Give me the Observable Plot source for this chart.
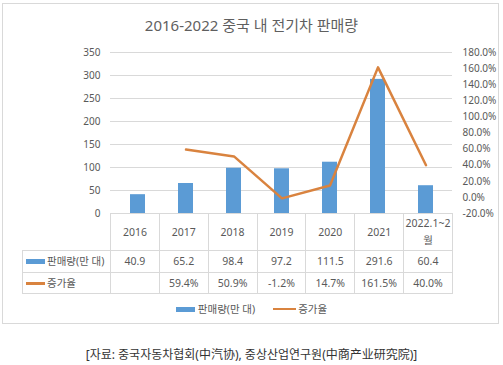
<!DOCTYPE html>
<html><head><meta charset="utf-8">
<script src="https://cdn.jsdelivr.net/npm/d3@7"></script>
<script src="https://cdn.jsdelivr.net/npm/@observablehq/plot@0.6"></script>
<style>
body{margin:0;background:#fff;font-family:"Noto Sans","Noto Sans CJK KR",sans-serif;}
#wrap{position:relative;width:503px;height:365px;overflow:hidden;}
#frame{position:absolute;left:2px;top:3px;width:497px;height:321px;border:1px solid #d9d9d9;box-sizing:border-box;}
#title{position:absolute;left:0;width:503px;top:15px;text-align:center;font-size:15px;font-weight:400;color:#5f5f5f;line-height:20px;}
#chart{position:absolute;left:0;top:0;}
#tbl{position:absolute;left:22px;top:213px;border-collapse:collapse;table-layout:fixed;font-size:10.5px;color:#595959;}
#tbl td{padding:0;text-align:center;border:1px solid #d9d9d9;line-height:13px;}
#legend{position:absolute;left:0;width:503px;top:300px;text-align:center;font-size:10.5px;color:#595959;line-height:16px;}
.key{display:inline-block;vertical-align:middle;}
#caption{position:absolute;left:0;width:503px;top:346px;text-align:center;font-size:12px;color:#333;line-height:18px;}
</style></head>
<body>
<div id="wrap">
  <div id="frame"></div>
  <div id="title"></div>
  <div id="chart"></div>
  <table id="tbl"></table>
  <div id="legend"></div>
  <div id="caption"></div>
</div>
<script>
const titleText = "2016-2022 중국 내 전기차 판매량";
const captionText = "[자료: 중국자동차협회(中汽协), 중상산업연구원(中商产业研究院)]";
const categories = ["2016","2017","2018","2019","2020","2021","2022.1~2월"];
const sales = [40.9, 65.2, 98.4, 97.2, 111.5, 291.6, 60.4];
const growth = [null, 59.4, 50.9, -1.2, 14.7, 161.5, 40.0];
const seriesNames = ["판매량(만 대)", "증가율"];
const leftTicks = [0, 50, 100, 150, 200, 250, 300, 350];
const rightTicks = [-20, 0, 20, 40, 60, 80, 100, 120, 140, 160, 180];

const barColor = "#5B9BD5";
const lineColor = "#D9833F";

const lMin = leftTicks[0], lMax = leftTicks[leftTicks.length-1];
const rMin = rightTicks[0], rMax = rightTicks[rightTicks.length-1];
const toLeft = r => lMin + (r - rMin) * (lMax - lMin) / (rMax - rMin);
const fromLeft = v => rMin + (v - lMin) * (rMax - rMin) / (lMax - lMin);

const data = categories.map((c, i) => ({cat: c, sales: sales[i], growth: growth[i]}));

document.getElementById("title").textContent = titleText;
document.getElementById("caption").textContent = captionText;

const plot = Plot.plot({
  width: 503, height: 226,
  marginTop: 52, marginBottom: 13, marginLeft: 110, marginRight: 51,
  style: {fontSize: "10px", color: "#595959", fontFamily: '"Noto Sans","Noto Sans CJK KR",sans-serif', background: "transparent"},
  x: {domain: categories, paddingInner: 0.69, paddingOuter: 0.345, axis: null},
  y: {domain: [lMin, lMax], axis: null},
  marks: [
    Plot.ruleY(leftTicks.filter(d => d > lMin), {stroke: "#d9d9d9", strokeWidth: 1}),
    Plot.barY(data, {x: "cat", y: "sales", fill: barColor}),
    Plot.line(data.filter(d => d.growth != null), {x: "cat", y: d => toLeft(d.growth), stroke: lineColor, strokeWidth: 2.5}),
    Plot.axisY(leftTicks, {anchor: "left", tickSize: 0, tickPadding: 10, label: null}),
    Plot.axisY(rightTicks.map(toLeft), {anchor: "right", tickSize: 0, tickPadding: 10, label: null,
      tickFormat: d => fromLeft(d).toFixed(1) + "%"})
  ]
});
document.getElementById("chart").appendChild(plot);

// data table
const colW = 342 / categories.length;
const tbl = document.getElementById("tbl");
const cg = document.createElement("colgroup");
[88, ...categories.map(() => colW)].forEach(w => {
  const col = document.createElement("col"); col.style.width = w + "px"; cg.appendChild(col);
});
tbl.appendChild(cg);
function keyHTML(i) {
  return i === 0
    ? `<span class="key" style="width:19px;height:5px;background:${barColor};"></span>`
    : `<span class="key" style="width:19px;height:2.5px;background:${lineColor};"></span>`;
}
// row 1
let tr = document.createElement("tr"); tr.style.height = "37px";
let td = document.createElement("td"); td.style.borderLeft = "none"; td.style.borderTop = "none"; tr.appendChild(td);
categories.forEach(c => {
  const t = document.createElement("td");
  const m = c.match(/^(.*)(월)$/);
  if (m) { t.innerHTML = m[1] + "<br>" + m[2]; t.style.lineHeight = "17px"; }
  else t.textContent = c;
  tr.appendChild(t);
});
tbl.appendChild(tr);
// rows 2-3
[sales, growth].forEach((arr, i) => {
  const r = document.createElement("tr"); r.style.height = (i === 0 ? 22 : 21) + "px";
  const h = document.createElement("td");
  h.style.textAlign = "left"; h.style.paddingLeft = "3px";
  h.innerHTML = keyHTML(i) + `<span style="vertical-align:middle;margin-left:2px">${seriesNames[i]}</span>`;
  r.appendChild(h);
  arr.forEach(v => {
    const t = document.createElement("td");
    t.textContent = v == null ? "" : (i === 0 ? v.toFixed(1) : v.toFixed(1) + "%");
    r.appendChild(t);
  });
  tbl.appendChild(r);
});

// legend
document.getElementById("legend").innerHTML =
  keyHTML(0) + `<span style="vertical-align:middle;margin-left:3px;margin-right:18px">${seriesNames[0]}</span>` +
  `<span class="key" style="width:23px;height:2.5px;background:${lineColor};"></span>` +
  `<span style="vertical-align:middle;margin-left:2px">${seriesNames[1]}</span>`;
</script>
</body></html>
